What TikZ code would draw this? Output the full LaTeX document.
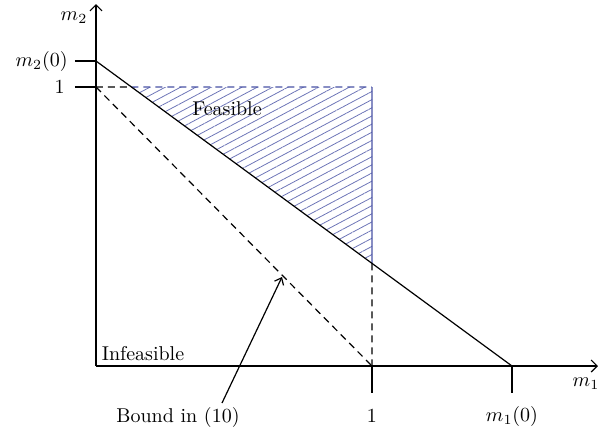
\documentclass[tikz,border=0pt]{standalone}
\usepackage{amsmath,amssymb}
\usepackage{xcolor}
\usepackage{tikz}
\usetikzlibrary{arrows.meta, positioning, calc, patterns.meta}

\definecolor{hatchblue}{RGB}{72,82,165}

\begin{document}
\begin{tikzpicture}[
        x=0.5pt, y=-0.5pt,
        axis/.style={-{Straight Barb[length=3pt, width=6pt]}, line width=0.6pt},
        tick/.style={line width=0.6pt},
        bnd/.style={line width=0.6pt},
        dsh/.style={line width=0.6pt, dash pattern=on 3.5pt off 2.5pt},
        arr/.style={-{Straight Barb[length=3pt, width=5pt]}, line width=0.6pt},
        lbl/.style={inner sep=1pt, font=\normalsize}
    ]
        \useasboundingbox (0,0) rectangle (602,436);

        % axes
        \coordinate (O) at (96,366);
        \coordinate (xend) at (598,366);
        \coordinate (yend) at (96,4);
        \draw[axis] (O) -- (xend);
        \draw[axis] (O) -- (yend);

        % marks on the axes
        \coordinate (m20) at (96,61);
        \coordinate (oney) at (96,87);
        \coordinate (onex) at (372,366);
        \coordinate (m10) at (512,366);
        \coordinate (Q) at (372,87);

        \node[lbl, anchor=east] (lm20) at (70,61) {$m_2(0)$};
        \node[lbl, anchor=east] (loney) at (67,87) {$1$};
        \node[lbl] (lonex) at (372,416) {$1$};
        \node[lbl] (lm10) at (512,416) {$m_1(0)$};
        \node[lbl] (lm1) at (586,384) {$m_1$};
        \node[lbl] (lm2) at (74,18) {$m_2$};

        \draw[tick] (lm20.east) ++(5,0) -- (m20);
        \draw[tick] (loney.east) ++(8,0) -- (oney);
        \draw[tick] (onex) -- ++(0,27);
        \draw[tick] (m10) -- ++(0,27);

        % feasible set
        \coordinate (P) at (intersection of m20--m10 and oney--Q);
        \coordinate (R) at (intersection of m20--m10 and Q--onex);
        \fill[pattern={Lines[angle=28, distance=3.6pt, line width=0.4pt]}, pattern color=hatchblue!80]
            (P) -- (Q) -- (R) -- cycle;
        \draw[dsh] (oney) -- (P);
        \draw[dsh, hatchblue] (P) -- (Q);
        \draw[bnd, hatchblue] (Q) -- (R);
        \draw[dsh] (R) -- (onex);

        % bounds
        \draw[bnd] (m20) -- (m10);
        \draw[dsh] (oney) -- (onex);

        \node[lbl] (feas) at (227,109) {Feasible};
        \node[lbl] (infeas) at (143,354) {Infeasible};

        \node[lbl] (bound) at (178,417) {Bound in (10)};
        \coordinate (bstart) at (222,403);
        \coordinate (btip) at (282,277);
        \draw[arr] (bstart) -- (btip);
    \end{tikzpicture}
\end{document}
